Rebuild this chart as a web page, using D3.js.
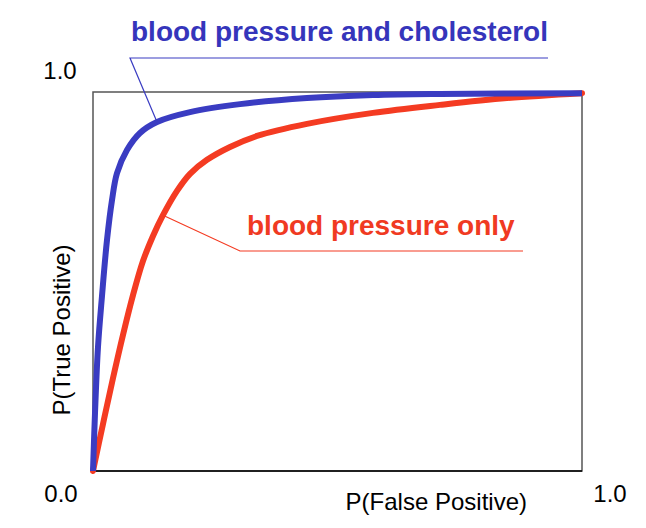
<!DOCTYPE html>
<html>
<head>
<meta charset="utf-8">
<script src="https://cdn.jsdelivr.net/npm/d3@7"></script>
<style>
  html, body { margin: 0; padding: 0; background: #fff; }
  svg { display: block; }
  text { font-family: "Liberation Sans", Arial, Helvetica, sans-serif; }
</style>
</head>
<body>
<svg id="chart" width="646" height="528"></svg>
<script>
// ---- data ----
const seriesNames = ["blood pressure only", "blood pressure and cholesterol"];
const bpOnlyFPR = [0, 0.0204, 0.0409, 0.0613, 0.0818, 0.1022, 0.1227, 0.1431, 0.1718, 0.1984, 0.2331, 0.2802, 0.3354, 0.4376, 0.5726, 0.7096, 0.8466, 1.0];
const bpOnlyTPR = [0, 0.124, 0.245, 0.359, 0.464, 0.554, 0.620, 0.675, 0.739, 0.784, 0.821, 0.855, 0.884, 0.916, 0.945, 0.966, 0.984, 0.997];
const bpCholFPR = [0, 0.0041, 0.0102, 0.0184, 0.0286, 0.0389, 0.0491, 0.0695, 0.0961, 0.1309, 0.1984, 0.3006, 0.4376, 0.5726, 0.7096, 1.0];
const bpCholTPR = [0, 0.153, 0.327, 0.462, 0.609, 0.715, 0.786, 0.847, 0.892, 0.921, 0.947, 0.968, 0.984, 0.992, 0.995, 0.997];
const xTickLabels = ["0.0", "1.0"];
const yTickLabels = ["0.0", "1.0"];
const xTitle = "P(False Positive)";
const yTitle = "P(True Positive)";

// ---- layout ----
const svg = d3.select("#chart");
const x = d3.scaleLinear().domain([0, 1]).range([93, 582]);
const y = d3.scaleLinear().domain([0, 1]).range([471, 92]);

const BLUE = "#3a3cc2";
const RED = "#f43b22";

// frame
svg.append("rect")
  .attr("x", x(0)).attr("y", y(1))
  .attr("width", x(1) - x(0)).attr("height", y(0) - y(1))
  .attr("fill", "none").attr("stroke", "#555").attr("stroke-width", 1.5);
svg.append("line")
  .attr("x1", x(0)).attr("x2", x(1)).attr("y1", y(0)).attr("y2", y(0))
  .attr("stroke", "#000").attr("stroke-width", 1.5);

const line = d3.line()
  .x(d => x(d[0])).y(d => y(d[1]))
  .curve(d3.curveCatmullRom.alpha(0.5));

const redPts = bpOnlyFPR.map((v, i) => [v, bpOnlyTPR[i]]);
const bluePts = bpCholFPR.map((v, i) => [v, bpCholTPR[i]]);

svg.append("path").attr("d", line(redPts))
  .attr("fill", "none").attr("stroke", RED).attr("stroke-width", 6)
  .attr("stroke-linecap", "round").attr("stroke-linejoin", "round");
svg.append("path").attr("d", line(bluePts))
  .attr("fill", "none").attr("stroke", BLUE).attr("stroke-width", 6)
  .attr("stroke-linejoin", "round");

// annotations (leader lines anchored on data points)
const blueAnchor = bluePts[9];
const redAnchor = redPts[7];
svg.append("path")
  .attr("d", d3.line()([[x(blueAnchor[0]), y(blueAnchor[1])], [130, 58], [548, 58]]))
  .attr("fill", "none").attr("stroke", BLUE).attr("stroke-width", 1.2);
svg.append("path")
  .attr("d", d3.line()([[x(redAnchor[0]), y(redAnchor[1])], [240, 251], [523, 251]]))
  .attr("fill", "none").attr("stroke", RED).attr("stroke-width", 1.2);

svg.append("text").attr("x", 131).attr("y", 41)
  .attr("font-size", 28).attr("font-weight", "bold").attr("fill", "#3535bb")
  .text(seriesNames[1]);
svg.append("text").attr("x", 247).attr("y", 235)
  .attr("font-size", 28).attr("font-weight", "bold").attr("fill", "#f03a22")
  .text(seriesNames[0]);

// tick labels
svg.append("text").attr("x", x(0) - 32).attr("y", 502).attr("text-anchor", "middle")
  .attr("font-size", 24).attr("fill", "#000").text(xTickLabels[0]);
svg.append("text").attr("x", x(1) + 28).attr("y", 502).attr("text-anchor", "middle")
  .attr("font-size", 24).attr("fill", "#000").text(xTickLabels[1]);
svg.append("text").attr("x", x(0) - 33).attr("y", y(1) - 13).attr("text-anchor", "middle")
  .attr("font-size", 24).attr("fill", "#000").text(yTickLabels[1]);

// axis titles
svg.append("text").attr("x", 527).attr("y", 510).attr("text-anchor", "end")
  .attr("font-size", 24).attr("fill", "#000").text(xTitle);
svg.append("text")
  .attr("transform", "translate(70,330) rotate(-90)")
  .attr("text-anchor", "middle")
  .attr("font-size", 24).attr("fill", "#000").text(yTitle);
</script>
</body>
</html>
